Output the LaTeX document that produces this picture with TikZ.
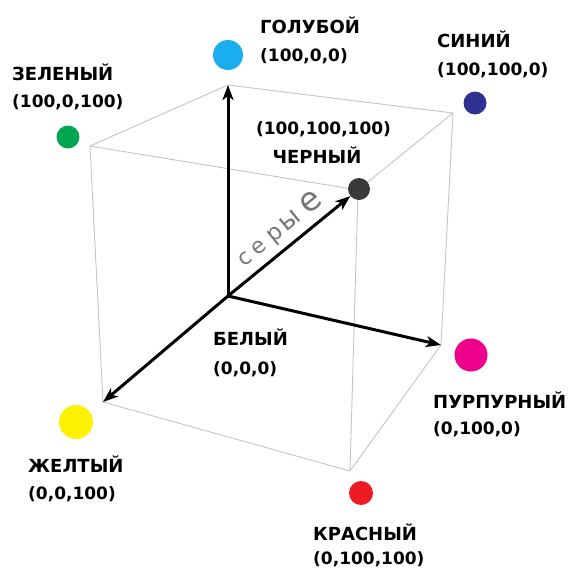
\documentclass[tikz,border=0pt]{standalone}
\usepackage{fontspec}
\setmainfont{DejaVu Sans}
\usetikzlibrary{arrows.meta}
\definecolor{cCyan}{HTML}{1AAEEF}
\definecolor{cGreen}{HTML}{00A651}
\definecolor{cBlue}{HTML}{2E3192}
\definecolor{cBlack}{HTML}{3A3A3A}
\definecolor{cYellow}{HTML}{FFF200}
\definecolor{cMagenta}{HTML}{EC008C}
\definecolor{cRed}{HTML}{ED1C24}
\definecolor{edgegray}{HTML}{C4C4C4}
\definecolor{greytext}{HTML}{767676}
\tikzset{
  edge/.style={draw=edgegray, line width=0.9pt},
  axisarrow/.style={draw=black, line width=3pt, -{Stealth[length=15pt,width=11pt,inset=4pt]}},
  dot/.style={circle, inner sep=0pt, minimum size=#1},
  lab/.style={font=\fontsize{18}{18}\selectfont\bfseries, inner sep=0pt, anchor=base west},
  num/.style={font=\fontsize{17}{17}\selectfont\bfseries, inner sep=0pt, anchor=base west},
  grey/.style={text=greytext, inner sep=0pt, anchor=base west, rotate=39.2},
}
\begin{document}
\begin{tikzpicture}[x=1pt,y=-1pt]
\useasboundingbox (0,0) rectangle (571,568);
% cube vertices
\coordinate (W) at (228,296);
\coordinate (C) at (228,85);
\coordinate (G) at (90,146);
\coordinate (B) at (453,113);
\coordinate (K) at (358,190);
\coordinate (Y) at (103,402);
\coordinate (M) at (441,345);
\coordinate (R) at (350,471);
% cube edges
\draw[edge] (C) -- (G);
\draw[edge] (C) -- (B);
\draw[edge] (G) -- (K);
\draw[edge] (K) -- (B);
\draw[edge] (G) -- (Y);
\draw[edge] (K) -- (R);
\draw[edge] (B) -- (M);
\draw[edge] (Y) -- (R);
\draw[edge] (M) -- (R);
% dots
\node[dot=30pt, fill=cCyan] (dc) at (228,55) {};
\node[dot=23pt, fill=cGreen] (dg) at (68,137) {};
\node[dot=23pt, fill=cBlue] (db) at (475,103) {};
\node[dot=22pt, fill=cBlack] (dk) at (359,189) {};
\node[dot=34pt, fill=cYellow] (dy) at (76,422) {};
\node[dot=33pt, fill=cMagenta] (dm) at (471,355) {};
\node[dot=24pt, fill=cRed] (dr) at (361,493) {};
% arrows
\draw[axisarrow] (W) -- (C);
\draw[axisarrow] (W) -- (Y);
\draw[axisarrow] (W) -- (M);
\draw[axisarrow] (W) -- (dk);
% labels
\node[lab] (lc1) at (260,33) {ГОЛУБОЙ};
\node[num] (lc2) at (260,61) {(100,0,0)};
\node[lab] (lb1) at (437,47) {СИНИЙ};
\node[num] (lb2) at (437,75) {(100,100,0)};
\node[lab] (lg1) at (12,80) {ЗЕЛЕНЫЙ};
\node[num] (lg2) at (12,107) {(100,0,100)};
\node[num, anchor=base] (lk1) at (323.5,134) {(100,100,100)};
\node[lab, anchor=base] (lk2) at (317,163) {ЧЕРНЫЙ};
\node[lab] (lw1) at (213,345) {БЕЛЫЙ};
\node[num] (lw2) at (213,374) {(0,0,0)};
\node[lab] (ly1) at (28,472) {ЖЕЛТЫЙ};
\node[num] (ly2) at (28,499) {(0,0,100)};
\node[lab] (lm1) at (433,408) {ПУРПУРНЫЙ};
\node[num] (lm2) at (433,434) {(0,100,0)};
\node[lab] (lr1) at (313,540) {КРАСНЫЙ};
\node[num] (lr2) at (313,564) {(0,100,100)};
% grey word along the diagonal
\node[grey] (grw) at (244,267.4) {\fontsize{22}{22}\selectfont с\kern5.4pt е\kern6.4pt\fontsize{23}{23}\selectfont р\kern2.7pt\fontsize{26}{26}\selectfont ы\kern7.2pt\fontsize{33}{33}\selectfont е};
\end{tikzpicture}
\end{document}
